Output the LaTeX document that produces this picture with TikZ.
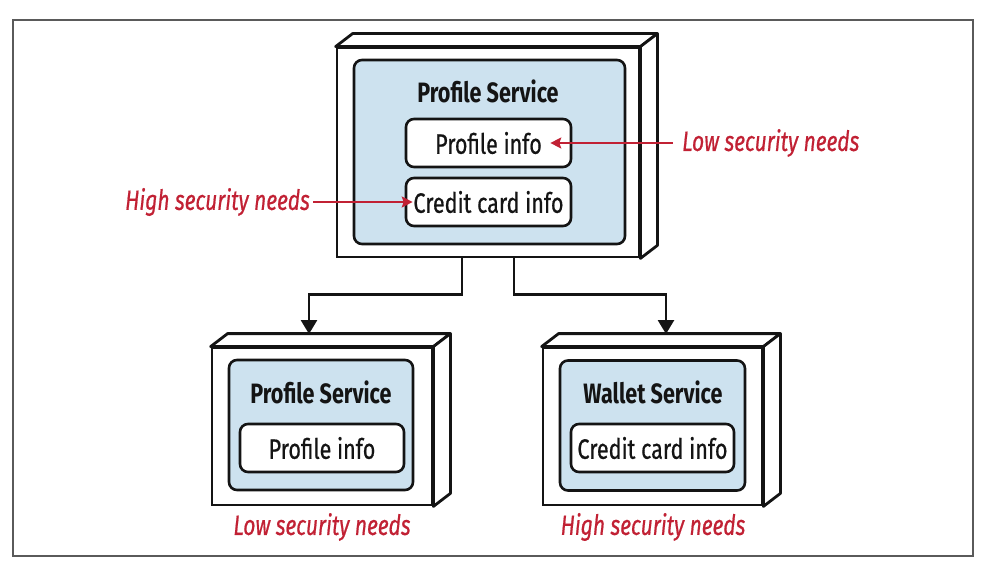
\documentclass[tikz,border=0pt]{standalone}
\usepackage{fontspec}
\setmainfont{Fira Sans}[FakeStretch=0.77]
\newfontfamily\medfont{Fira Sans}[FakeStretch=0.77, FakeBold=0.6]
\newfontfamily\labfont{Fira Sans}[FakeStretch=0.75, FakeBold=0.6]
\usetikzlibrary{arrows.meta}
\definecolor{boxblue}{RGB}{205,226,239}
\definecolor{needred}{RGB}{193,33,52}
\definecolor{inkblack}{RGB}{20,20,20}
\definecolor{framegray}{RGB}{90,90,90}
\tikzset{
  front/.style={draw=inkblack, line width=2.8pt, fill=white, rectangle, inner sep=0pt},
  face/.style={draw=inkblack, line width=2.8pt, fill=white, line join=round},
  svc/.style={draw=inkblack, line width=2.6pt, fill=boxblue, rectangle, rounded corners=8pt, inner sep=0pt},
  datab/.style={draw=inkblack, line width=2.6pt, fill=white, rectangle, rounded corners=8pt, inner sep=0pt,
    font=\medfont\fontsize{28}{32}\selectfont, text=inkblack},
  ttl/.style={font=\fontsize{28}{32}\selectfont\bfseries, text=inkblack, inner sep=0pt},
  need/.style={font=\labfont\fontsize{28}{32}\selectfont\itshape, text=needred, inner sep=0pt},
  conn/.style={draw=inkblack, line width=2.8pt, -{Triangle[length=14pt,width=16pt]}},
  redconn/.style={draw=needred, line width=1.7pt, -{Stealth[length=11pt,width=11pt,inset=2pt]}},
}
\begin{document}
\begin{tikzpicture}[x=1pt,y=-1pt]
\useasboundingbox (0,0) rectangle (986,567);
\node[draw=framegray, line width=1.1pt, rectangle, minimum width=960pt, minimum height=536pt, inner sep=0pt] (frame) at (493,288) {};

% top box
\node[front, minimum width=302pt, minimum height=209pt] (topf) at (488,152.5) {};
\draw[face] (topf.north west) -- ++(17,-13) -- ([shift={(17,-13)}]topf.north east) -- (topf.north east) -- cycle;
\draw[face] (topf.north east) -- ++(17,-13) -- ([shift={(17,-13)}]topf.south east) -- (topf.south east) -- cycle;
\node[svc, minimum width=271pt, minimum height=184pt] (topsvc) at (489.5,152) {};
\node[ttl] (toptitle) at (488,91) {Profile Service};
\node[datab, minimum width=165pt, minimum height=48pt] (pinfo) at (488.5,143) {Profile info};
\node[datab, minimum width=165pt, minimum height=48pt] (ccinfo) at (488.5,202) {Credit card info};

% bottom-left box
\node[front, minimum width=220pt, minimum height=157pt] (blf) at (322,426.5) {};
\draw[face] (blf.north west) -- ++(17,-13) -- ([shift={(17,-13)}]blf.north east) -- (blf.north east) -- cycle;
\draw[face] (blf.north east) -- ++(17,-13) -- ([shift={(17,-13)}]blf.south east) -- (blf.south east) -- cycle;
\node[svc, minimum width=184pt, minimum height=130pt] (blsvc) at (321,425) {};
\node[ttl] (bltitle) at (321,392) {Profile Service};
\node[datab, minimum width=164pt, minimum height=48pt] (blinfo) at (322,448) {Profile info};
\node[need] (bllab) at (322,527) {Low security needs};

% bottom-right box
\node[front, minimum width=219pt, minimum height=157pt] (brf) at (652.5,426.5) {};
\draw[face] (brf.north west) -- ++(17,-13) -- ([shift={(17,-13)}]brf.north east) -- (brf.north east) -- cycle;
\draw[face] (brf.north east) -- ++(17,-13) -- ([shift={(17,-13)}]brf.south east) -- (brf.south east) -- cycle;
\node[svc, minimum width=185pt, minimum height=130pt] (brsvc) at (652.5,425.5) {};
\node[ttl] (brtitle) at (653,392) {Wallet Service};
\node[datab, minimum width=163pt, minimum height=48pt] (brinfo) at (652.5,448) {Credit card info};
\node[need] (brlab) at (653,527) {High security needs};

% connectors
\coordinate (tipL) at (309,334);
\coordinate (tipR) at (666,334);
\draw[conn] ([xshift=-26pt]topf.south) -- ++(0,36) -| (tipL);
\draw[conn] ([xshift=26pt]topf.south) -- ++(0,36) -| (tipR);

% red labels
\node[need, anchor=west] (lowlab) at (682,143) {Low security needs};
\node[need, anchor=east] (highlab) at (310,202) {High security needs};
\draw[redconn] ([xshift=-9pt]lowlab.west) -- ([xshift=-22pt]pinfo.east);
\draw[redconn] ([xshift=3pt]highlab.east) -- ([xshift=8pt]ccinfo.west);
\end{tikzpicture}
\end{document}
